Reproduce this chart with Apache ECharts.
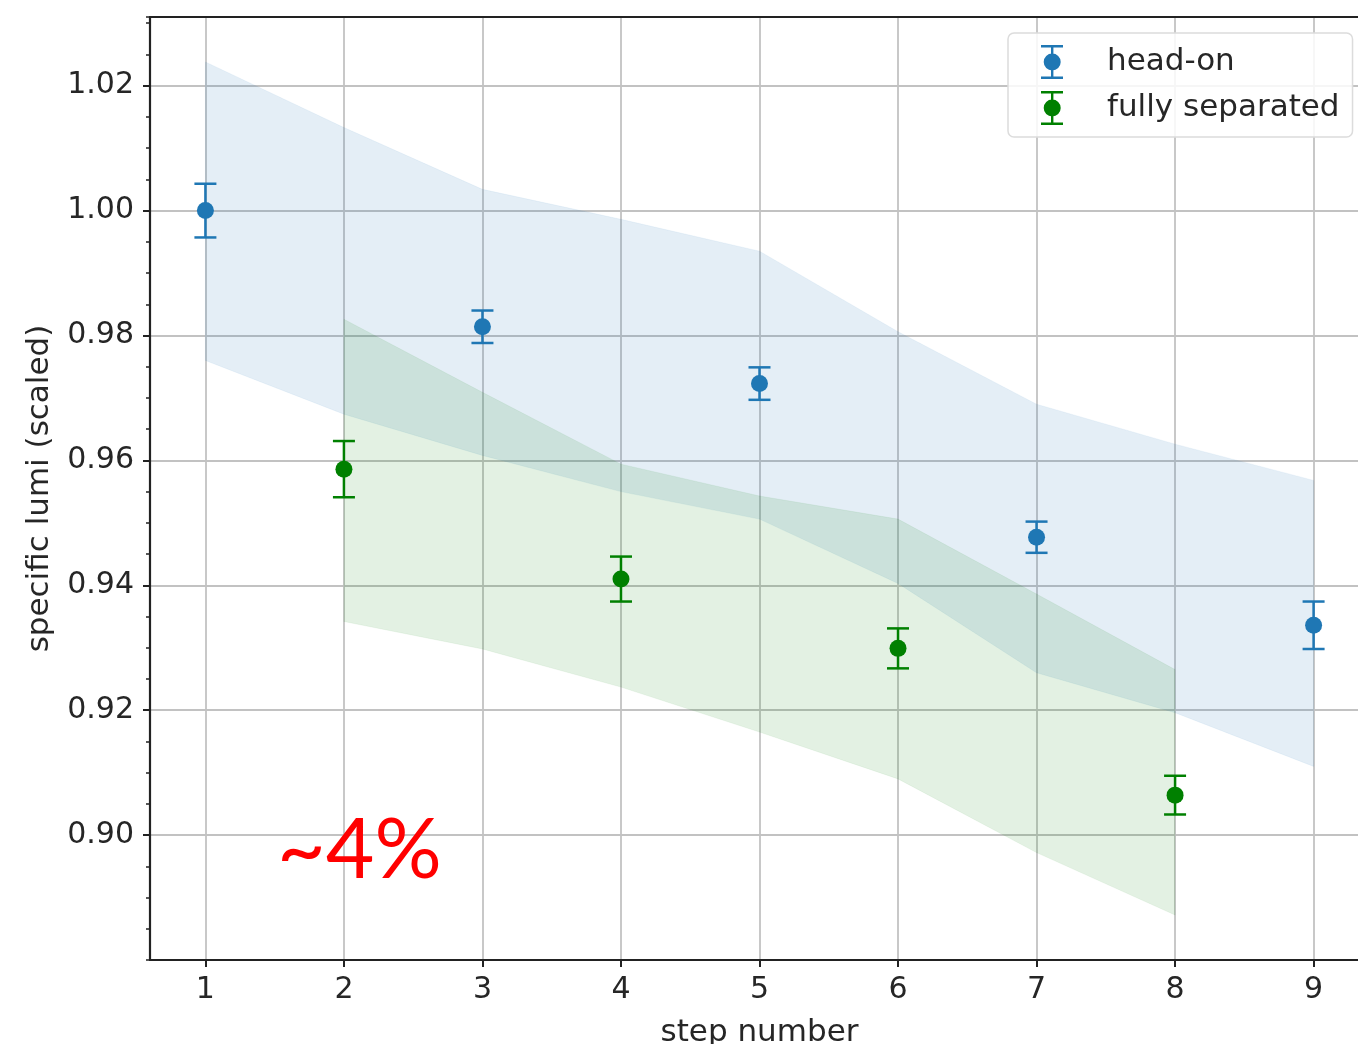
<!DOCTYPE html>
<html>
<head>
<meta charset="utf-8">
<title>specific lumi per step</title>
<script src="https://cdn.jsdelivr.net/npm/echarts@6/dist/echarts.min.js"></script>
<style>
  html, body { margin: 0; padding: 0; background: #ffffff; }
  #chart { width: 1358px; height: 1044px; }
</style>
</head>
<body>
<div id="chart"></div>
<script>
// Measured specific luminosity (scaled to the first head-on step)
const headOnSteps = [1, 3, 5, 7, 9];
const headOnLumi = [1.0000, 0.9814, 0.9723, 0.9477, 0.9336];
const headOnErr = [0.0043, 0.0026, 0.0026, 0.0025, 0.0038];

const sepSteps = [2, 4, 6, 8];
const sepLumi = [0.9586, 0.9410, 0.9299, 0.9064];
const sepErr = [0.0045, 0.0036, 0.0032, 0.0031];

// Uncertainty envelopes
const headOnBandSteps = [1, 2, 3, 4, 5, 6, 7, 8, 9];
const headOnBandUpper = [1.0238, 1.0133, 1.0034, 0.9986, 0.9935, 0.9806, 0.9690, 0.9626, 0.9568];
const headOnBandLower = [0.9760, 0.9674, 0.9608, 0.9550, 0.9506, 0.9403, 0.9260, 0.9196, 0.9110];

const sepBandSteps = [2, 3, 4, 5, 6, 7, 8];
const sepBandUpper = [0.9826, 0.9709, 0.9594, 0.9543, 0.9506, 0.9386, 0.9265];
const sepBandLower = [0.9342, 0.9298, 0.9237, 0.9165, 0.9090, 0.8972, 0.8872];

const yTickStep = 0.02;
const yMinorStep = 0.005;
const annotation = '~4%';

const BLUE = '#1f77b4';
const GREEN = '#008000';
const TEXT = '#262626';
const AXIS = '#222222';
const FONT = '"DejaVu Sans", sans-serif';

function bandRenderer(xs, upper, lower, fill) {
  return function (params, api) {
    if (params.dataIndex !== 0) return null;
    const pts = [];
    for (let i = 0; i < xs.length; i++) pts.push(api.coord([xs[i], upper[i]]));
    for (let i = xs.length - 1; i >= 0; i--) pts.push(api.coord([xs[i], lower[i]]));
    return {
      type: 'polygon',
      shape: { points: pts },
      style: { fill: fill, stroke: fill, lineWidth: 0.5 }
    };
  };
}

function errorBarRenderer(color) {
  return function (params, api) {
    const x = api.value(0), y = api.value(1), e = api.value(2);
    const top = api.coord([x, y + e]);
    const bot = api.coord([x, y - e]);
    const mid = api.coord([x, y]);
    const cap = 11, lw = 2.5;
    const ls = { stroke: color, lineWidth: lw };
    return {
      type: 'group',
      children: [
        { type: 'line', shape: { x1: top[0], y1: top[1], x2: bot[0], y2: bot[1] }, style: ls },
        { type: 'line', shape: { x1: top[0] - cap, y1: top[1], x2: top[0] + cap, y2: top[1] }, style: ls },
        { type: 'line', shape: { x1: bot[0] - cap, y1: bot[1], x2: bot[0] + cap, y2: bot[1] }, style: ls },
        { type: 'circle', shape: { cx: mid[0], cy: mid[1], r: 8.5 }, style: { fill: color } }
      ]
    };
  };
}

// Legend handle: marker with an error bar through it
const errorBarIcon = 'path://M0,0h22v2.5h-22z M0,31.5h22v2.5h-22z M10,0h2.4v34h-2.4z M2.7,17a8.5,8.5 0 1,1 17,0a8.5,8.5 0 1,1 -17,0z';

const chart = echarts.init(document.getElementById('chart'), null, { renderer: 'canvas' });

chart.setOption({
  backgroundColor: '#ffffff',
  animation: false,
  grid: {
    left: 150, top: 17, right: -11, bottom: 84,
    outerBoundsMode: 'none',
    containLabel: false,
    show: false
  },
  legend: {
    orient: 'vertical',
    left: 1008, top: 33,
    itemWidth: 22, itemHeight: 34, itemGap: 12,
    padding: [12, 13, 12, 33],
    backgroundColor: 'rgba(255,255,255,0.85)',
    borderColor: '#dcdcdc', borderWidth: 1.5, borderRadius: 6,
    textStyle: { fontFamily: FONT, fontSize: 31, color: TEXT, padding: [0, 0, 0, 39] },
    selectedMode: false,
    data: [
      { name: 'head-on', icon: errorBarIcon, itemStyle: { color: BLUE } },
      { name: 'fully separated', icon: errorBarIcon, itemStyle: { color: GREEN } }
    ]
  },
  xAxis: [
    {
      type: 'value',
      min: 0.6, max: 9.4,
      splitNumber: 8,
      name: 'step number',
      nameLocation: 'middle',
      nameGap: 57,
      nameTextStyle: { fontFamily: FONT, fontSize: 31, color: TEXT },
      axisLine: { show: true, lineStyle: { color: AXIS, width: 2.2 } },
      axisTick: { show: true, length: 7, lineStyle: { color: AXIS, width: 2 } },
      axisLabel: {
        fontFamily: FONT, fontSize: 30, color: TEXT, margin: 15,
        showMinLabel: false, showMaxLabel: false,
        formatter: v => String(Math.round(v))
      },
      splitLine: { show: true, lineStyle: { color: '#c2c2c2', width: 1.8 } }
    },
    {
      // top frame line
      type: 'value',
      position: 'top',
      min: 0.6, max: 9.4,
      axisLine: { show: true, lineStyle: { color: AXIS, width: 2.2 } },
      axisTick: { show: false },
      axisLabel: { show: false },
      splitLine: { show: false }
    }
  ],
  yAxis: [
    {
      type: 'value',
      min: 0.88, max: 1.031,
      interval: yTickStep,
      name: 'specific lumi (scaled)',
      nameLocation: 'middle',
      nameGap: 95,
      nameTextStyle: { fontFamily: FONT, fontSize: 31, color: TEXT },
      axisLine: { show: true, lineStyle: { color: AXIS, width: 2.2 } },
      axisTick: { show: true, length: 7, lineStyle: { color: AXIS, width: 2 } },
      axisLabel: {
        fontFamily: FONT, fontSize: 30, color: TEXT, margin: 16,
        showMinLabel: false, showMaxLabel: false,
        formatter: v => v.toFixed(2)
      },
      splitLine: { show: true, lineStyle: { color: '#c2c2c2', width: 1.8 } }
    },
    {
      type: 'value',
      position: 'left',
      min: 0.88, max: 1.031,
      interval: yMinorStep,
      axisLine: { show: false },
      axisTick: { show: true, length: 4, lineStyle: { color: AXIS, width: 1.5 } },
      axisLabel: { show: false },
      splitLine: { show: false }
    }
  ],
  graphic: [
    {
      type: 'text',
      x: 277, y: 851,
      style: {
        text: annotation,
        fill: '#ff0000',
        font: '84px Lato, "Liberation Sans", sans-serif',
        verticalAlign: 'middle'
      },
      z: 100
    }
  ],
  series: [
    {
      type: 'custom',
      name: 'head-on band',
      renderItem: bandRenderer(headOnBandSteps, headOnBandUpper, headOnBandLower, 'rgba(31,119,180,0.12)'),
      data: headOnBandSteps.map((s, i) => [s, headOnBandUpper[i], headOnBandLower[i]]),
      encode: { x: 0, y: [1, 2] },
      silent: true, z: 1
    },
    {
      type: 'custom',
      name: 'fully separated band',
      renderItem: bandRenderer(sepBandSteps, sepBandUpper, sepBandLower, 'rgba(0,128,0,0.11)'),
      data: sepBandSteps.map((s, i) => [s, sepBandUpper[i], sepBandLower[i]]),
      encode: { x: 0, y: [1, 2] },
      silent: true, z: 2
    },
    {
      type: 'custom',
      name: 'head-on',
      itemStyle: { color: BLUE },
      renderItem: errorBarRenderer(BLUE),
      data: headOnSteps.map((s, i) => [s, headOnLumi[i], headOnErr[i]]),
      encode: { x: 0, y: 1 },
      z: 5
    },
    {
      type: 'custom',
      name: 'fully separated',
      itemStyle: { color: GREEN },
      renderItem: errorBarRenderer(GREEN),
      data: sepSteps.map((s, i) => [s, sepLumi[i], sepErr[i]]),
      encode: { x: 0, y: 1 },
      z: 5
    }
  ]
});
</script>
</body>
</html>
